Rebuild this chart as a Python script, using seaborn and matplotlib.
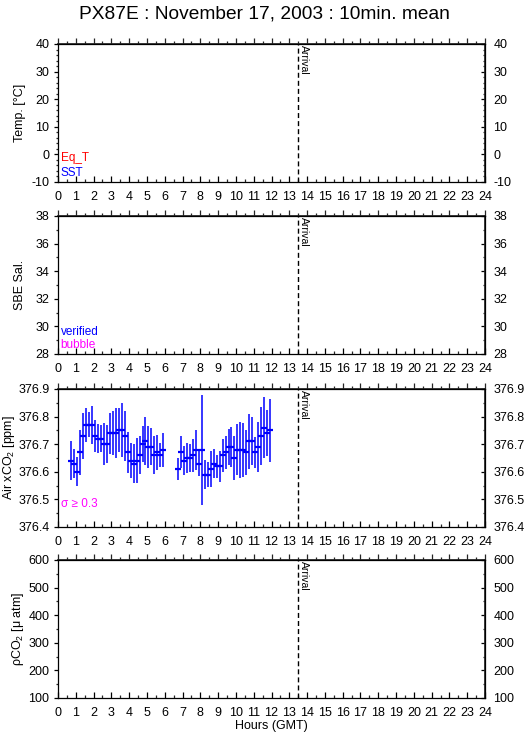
import matplotlib
matplotlib.use("Agg")
import matplotlib.pyplot as plt
from matplotlib.ticker import MultipleLocator, FormatStrFormatter, NullFormatter
import matplotlib.transforms as mtransforms
import seaborn as sns
import pandas as pd

sns.set_theme(style="white")
plt.rcParams["font.family"] = ["Liberation Sans", "DejaVu Sans"]
plt.rcParams["mathtext.fontset"] = "custom"
plt.rcParams["mathtext.rm"] = "Liberation Sans"
plt.rcParams["mathtext.it"] = "Liberation Sans:italic"

# Air xCO2 10-min means (GMT) and their standard deviations
times_am = ["00:45", "00:55", "01:05", "01:15", "01:25", "01:35", "01:45", "01:55",
            "02:05", "02:15", "02:25", "02:35", "02:45", "02:55", "03:05", "03:15",
            "03:25", "03:35", "03:45", "03:55", "04:05", "04:15", "04:25", "04:35",
            "04:45", "04:55", "05:05", "05:15", "05:25", "05:35", "05:45", "05:55"]
xco2_am = [376.64, 376.63, 376.60, 376.67, 376.73, 376.77, 376.77, 376.77,
           376.73, 376.72, 376.72, 376.70, 376.70, 376.74, 376.74, 376.74,
           376.75, 376.75, 376.73, 376.67, 376.64, 376.63, 376.64, 376.66,
           376.70, 376.71, 376.69, 376.69, 376.66, 376.67, 376.66, 376.68]
sd_am = [0.070, 0.051, 0.053, 0.080, 0.082, 0.062, 0.045, 0.069,
         0.057, 0.053, 0.050, 0.076, 0.069, 0.074, 0.080, 0.091,
         0.080, 0.098, 0.092, 0.076, 0.064, 0.071, 0.081, 0.069,
         0.065, 0.087, 0.076, 0.067, 0.069, 0.065, 0.044, 0.062]

times_pm = ["06:45", "06:55", "07:05", "07:15", "07:25", "07:35", "07:45", "07:55",
            "08:05", "08:15", "08:25", "08:35", "08:45", "08:55", "09:05", "09:15",
            "09:25", "09:35", "09:45", "09:55", "10:05", "10:15", "10:25", "10:35",
            "10:45", "10:55", "11:05", "11:15", "11:25", "11:35", "11:45", "11:55"]
xco2_pm = [376.61, 376.67, 376.64, 376.65, 376.65, 376.66, 376.68, 376.63,
           376.68, 376.59, 376.59, 376.61, 376.63, 376.62, 376.62, 376.66,
           376.67, 376.69, 376.69, 376.65, 376.68, 376.68, 376.68, 376.67,
           376.71, 376.71, 376.67, 376.69, 376.73, 376.76, 376.74, 376.75]
sd_pm = [0.041, 0.058, 0.052, 0.053, 0.052, 0.060, 0.073, 0.047,
         0.200, 0.051, 0.046, 0.065, 0.053, 0.042, 0.057, 0.060,
         0.060, 0.064, 0.071, 0.081, 0.093, 0.102, 0.098, 0.082,
         0.100, 0.087, 0.056, 0.092, 0.104, 0.110, 0.083, 0.113]

arrival_hour = 13.5

df = pd.DataFrame({
    "time": times_am + times_pm,
    "xco2": xco2_am + xco2_pm,
    "sd": sd_am + sd_pm,
})
hm = df["time"].str.split(":", expand=True).astype(int)
df["hour"] = hm[0] + hm[1] / 60.0

W, H = 529, 739
fig = plt.figure(figsize=(W / 100, H / 100), dpi=100)

panels = [
    # top px, bottom px, ylim, major, minor, fmt, ylabel, label x
    (44, 182, (-10, 40), 10, 2, "%d", "Temp. [°C]", -0.074),
    (216, 354, (28, 38), 2, 1, "%d", "SBE Sal.", -0.074),
    (389, 527, (376.4, 376.9), 0.1, 0.05, "%.1f", "Air xCO$_2$ [ppm]", -0.097),
    (560, 698, (100, 600), 100, 50, "%d", "ρCO$_2$ [μ atm]", -0.076),
]

left_px, right_px = 58, 485
axes = []
for top, bot, ylim, major, minor, fmt, ylabel, lx in panels:
    ax = fig.add_axes([left_px / W, 1 - bot / H, (right_px - left_px) / W, (bot - top) / H])
    ax.set_facecolor("white")
    ax.set_xlim(0, 24)
    ax.set_ylim(*ylim)
    for s in ax.spines.values():
        s.set_color("black")
        s.set_linewidth(0.9)

    ax.xaxis.set_major_locator(MultipleLocator(1))
    ax.xaxis.set_minor_locator(MultipleLocator(0.5))
    ax.xaxis.set_major_formatter(FormatStrFormatter("%d"))
    ax.xaxis.set_ticks_position("bottom")
    ax.tick_params(axis="x", which="major", direction="in", length=4, width=0.9,
                   pad=6.5, labelsize=9, colors="black")
    ax.tick_params(axis="x", which="minor", direction="in", length=2, width=0.9)

    ax.yaxis.set_major_locator(MultipleLocator(major))
    ax.yaxis.set_minor_locator(MultipleLocator(minor))
    ax.yaxis.set_major_formatter(FormatStrFormatter(fmt))
    ax.yaxis.set_ticks_position("left")
    ax.tick_params(axis="y", which="major", direction="out", length=3.2, width=0.9,
                   pad=3, labelsize=9, colors="black")
    ax.tick_params(axis="y", which="minor", direction="out", length=1.8, width=0.9)

    top_ax = ax.secondary_xaxis("top")
    top_ax.xaxis.set_major_locator(MultipleLocator(1))
    top_ax.xaxis.set_minor_locator(MultipleLocator(0.5))
    top_ax.xaxis.set_major_formatter(NullFormatter())
    top_ax.tick_params(which="major", direction="out", length=4, width=0.9)
    top_ax.tick_params(which="minor", direction="out", length=2, width=0.9)

    right_ax = ax.secondary_yaxis("right")
    right_ax.yaxis.set_major_locator(MultipleLocator(major))
    right_ax.yaxis.set_minor_locator(MultipleLocator(minor))
    right_ax.yaxis.set_major_formatter(FormatStrFormatter(fmt))
    right_ax.tick_params(which="major", direction="in", length=3.2, width=0.9,
                         pad=6, labelsize=9, colors="black")
    right_ax.tick_params(which="minor", direction="in", length=1.8, width=0.9)

    ax.set_ylabel(ylabel, fontsize=9, color="black")
    ax.yaxis.set_label_coords(lx, 0.5)
    ax.grid(False)

    ax.axvline(arrival_hour, color="black", lw=1.0, ls=(0, (3.6, 2.2)))
    trans = mtransforms.blended_transform_factory(ax.transData, ax.transAxes)
    ax.text(arrival_hour + 0.05, 0.995, "Arrival", rotation=270, ha="left", va="top",
            fontsize=7.5, color="black", transform=trans)
    axes.append(ax)

ax1, ax2, ax3, ax4 = axes

ax1.text(0.006, 0.175, "Eq_T", color="red", fontsize=8.5, transform=ax1.transAxes, va="center")
ax1.text(0.006, 0.068, "SST", color="blue", fontsize=8.5, transform=ax1.transAxes, va="center")
ax2.text(0.006, 0.16, "verified", color="blue", fontsize=8.5, transform=ax2.transAxes, va="center")
ax2.text(0.006, 0.065, "bubble", color="magenta", fontsize=8.5, transform=ax2.transAxes, va="center")
ax3.text(0.006, 0.167, "σ ≥ 0.3", color="magenta", fontsize=8.5, transform=ax3.transAxes,
         va="center", family=["Liberation Sans", "DejaVu Sans"])

# Air xCO2 error bars with short horizontal mean markers
ax3.errorbar(df["hour"], df["xco2"], yerr=df["sd"], fmt="none", ecolor="blue",
             elinewidth=1.1, capsize=0)
sns.scatterplot(data=df, x="hour", y="xco2", marker="_", s=16, color="blue",
                linewidth=1.6, ax=ax3, legend=False)
ax3.set_xlabel("")
ax3.set_ylabel("Air xCO$_2$ [ppm]", fontsize=9)
ax3.yaxis.set_label_coords(-0.097, 0.5)
ax3.set_xlim(0, 24)
ax3.set_ylim(376.4, 376.9)

for ax in axes[:3]:
    ax.set_xlabel("")
ax4.set_xlabel("Hours (GMT)", fontsize=9, color="black", labelpad=1)

fig.text(0.5, 1 - 14 / H, "PX87E : November 17, 2003 : 10min. mean", ha="center",
         va="center", fontsize=13.8, color="black")

fig.savefig("out.png", dpi=100, facecolor="white")
plt.close(fig)
